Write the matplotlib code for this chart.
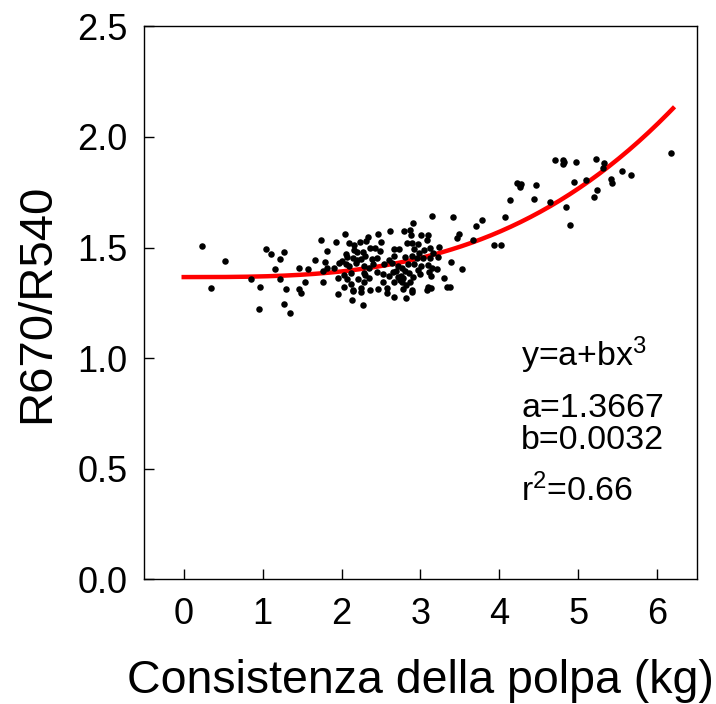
import numpy as np
import matplotlib
matplotlib.use('Agg')
import matplotlib.pyplot as plt

# ---------------------------------------------------------------------------
# Data: firmness (kg) vs R670/R540 ratio
# ---------------------------------------------------------------------------
consistenza = [
    # low-firmness tail
    0.23, 0.52, 0.34, 0.85, 0.97, 0.96, 1.04, 1.10, 1.22, 1.27, 1.16, 1.22,
    1.29, 1.27, 1.35, 1.46, 1.46, 1.49, 1.54, 1.58, 1.66, 1.74, 1.82, 1.79,
    1.76, 1.81, 1.90, 1.93, 1.76, 1.95, 1.96, 1.97,
    # dense cluster 2-3.4 kg
    3.14, 2.91,
    2.04, 2.33, 2.46, 2.62, 2.79, 2.87, 2.88, 3.01, 3.10,
    2.09, 2.16, 2.23, 2.31, 2.50, 2.83, 2.89, 2.97, 3.08, 3.23,
    2.05, 2.16, 2.19, 2.27, 2.36, 2.42, 2.49, 2.67, 2.73, 2.92, 2.98, 3.05,
    3.16, 3.12,
    2.00, 2.07, 2.15, 2.19, 2.25, 2.30, 2.39, 2.45, 2.60, 2.67, 2.81, 2.89,
    2.96, 3.03, 3.12, 3.22,
    2.05, 2.10, 2.18, 2.28, 2.35, 2.40, 2.54, 2.64, 2.71, 2.77, 2.84, 2.92,
    3.01, 3.09, 3.15, 3.21,
    2.03, 2.07, 2.12, 2.21, 2.28, 2.30, 2.35, 2.45, 2.53, 2.60, 2.65, 2.69,
    2.72, 2.75, 2.78, 2.80, 2.85, 2.91, 2.97, 3.00, 3.11, 3.13, 3.30,
    2.03, 2.12, 2.15, 2.25, 2.29, 2.36, 2.46, 2.53, 2.57, 2.67, 2.74, 2.76,
    2.78, 2.82, 2.87, 2.89, 3.09, 3.13, 3.33, 3.38,
    2.14, 2.13, 2.25, 2.27, 2.57, 2.67, 2.82, 2.89, 3.08,
    # upper tail
    3.39, 3.53, 3.41, 3.49, 3.46, 3.66, 3.70, 3.78, 3.93, 4.02, 4.07, 4.14,
    4.22, 4.26, 4.28, 4.26, 4.46, 4.44, 4.64, 4.71, 4.80, 4.82, 4.81, 4.84,
    4.89, 4.94, 4.97, 5.10, 5.20, 5.23, 5.24, 5.31, 5.33, 5.42, 5.43, 5.56,
    5.67, 6.17,
]
rapporto = [
    1.505, 1.438, 1.317, 1.356, 1.320, 1.223, 1.492, 1.471, 1.449, 1.478, 1.401, 1.356,
    1.314, 1.246, 1.204, 1.407, 1.314, 1.293, 1.343, 1.401, 1.445, 1.534, 1.484, 1.434,
    1.394, 1.409, 1.409, 1.525, 1.343, 1.361, 1.290, 1.429,
    1.644, 1.612,
    1.562, 1.549, 1.560, 1.575, 1.575, 1.579, 1.558, 1.558, 1.558,
    1.522, 1.513, 1.525, 1.528, 1.526, 1.520, 1.523, 1.517, 1.534, 1.504,
    1.471, 1.489, 1.481, 1.478, 1.500, 1.499, 1.484, 1.492, 1.492, 1.492, 1.477, 1.489,
    1.477, 1.496,
    1.440, 1.457, 1.455, 1.443, 1.449, 1.464, 1.449, 1.455, 1.442, 1.461, 1.458, 1.464,
    1.451, 1.455, 1.454, 1.458,
    1.428, 1.418, 1.431, 1.419, 1.407, 1.424, 1.424, 1.430, 1.419, 1.410, 1.424, 1.427,
    1.416, 1.422, 1.406, 1.404,
    1.376, 1.359, 1.386, 1.359, 1.385, 1.374, 1.362, 1.388, 1.382, 1.371, 1.388, 1.395,
    1.368, 1.371, 1.364, 1.395, 1.386, 1.368, 1.398, 1.380, 1.388, 1.370, 1.362,
    1.320, 1.334, 1.308, 1.317, 1.343, 1.308, 1.311, 1.346, 1.316, 1.343, 1.355, 1.343,
    1.311, 1.331, 1.346, 1.308, 1.324, 1.316, 1.322, 1.322,
    1.302, 1.264, 1.298, 1.240, 1.294, 1.276, 1.272, 1.301, 1.309,
    1.433, 1.403, 1.637, 1.562, 1.542, 1.536, 1.597, 1.627, 1.511, 1.511, 1.639, 1.715,
    1.792, 1.784, 1.788, 1.774, 1.783, 1.718, 1.704, 1.894, 1.895, 1.886, 1.877, 1.682,
    1.602, 1.796, 1.888, 1.807, 1.730, 1.899, 1.761, 1.859, 1.882, 1.808, 1.793, 1.847,
    1.828, 1.929,
]

# fitted model y = a + b x^3 (coefficients printed on the chart)
FIT_A = 1.3667
FIT_B = 0.0032
FIT_XMAX = 6.2
R2 = 0.66

plt.rcParams['font.family'] = ['Liberation Sans', 'DejaVu Sans']
plt.rcParams['mathtext.fontset'] = 'custom'
plt.rcParams['mathtext.rm'] = 'Liberation Sans'
plt.rcParams['mathtext.it'] = 'Liberation Sans'

fig = plt.figure(figsize=(7.16, 7.04), dpi=100)
ax = fig.add_axes([0.2015, 0.177, 0.7715, 0.7855])

ax.scatter(consistenza, rapporto, s=22, color='black', linewidths=0, zorder=3)

xf = np.linspace(0, FIT_XMAX, 200)
ax.plot(xf, FIT_A + FIT_B * xf ** 3, color='#FF0000', linewidth=3.2, zorder=2)

ax.set_xlim(-0.5, 6.5)
ax.set_ylim(0, 2.5)
ax.set_xticks(range(0, 7))
ax.set_yticks(np.arange(0, 2.51, 0.5))
ax.set_yticklabels([f'{v:.1f}' for v in np.arange(0, 2.51, 0.5)])
ax.tick_params(direction='in', length=7, width=1, labelsize=26, colors='black')
ax.tick_params(axis='x', pad=13)
ax.tick_params(axis='y', pad=12)
for s in ax.spines.values():
    s.set_linewidth(1.0)
    s.set_color('black')

ax.set_xlabel('Consistenza della polpa (kg)', fontsize=33.5, labelpad=19)
ax.set_ylabel('R670/R540', fontsize=34, labelpad=13)

# fit annotation
tx = 0.682
ax.text(tx, 0.405, 'y=a+bx$^{3}$', transform=ax.transAxes, fontsize=24.5, va='center')
ax.text(tx, 0.309, f'a={FIT_A:.4f}', transform=ax.transAxes, fontsize=24.5, va='center')
ax.text(tx, 0.252, f'b={FIT_B:.4f}', transform=ax.transAxes, fontsize=24.5, va='center')
ax.text(tx, 0.161, f'r$^{{2}}$={R2:.2f}', transform=ax.transAxes, fontsize=24.5, va='center')

fig.savefig('out.png', dpi=100)
